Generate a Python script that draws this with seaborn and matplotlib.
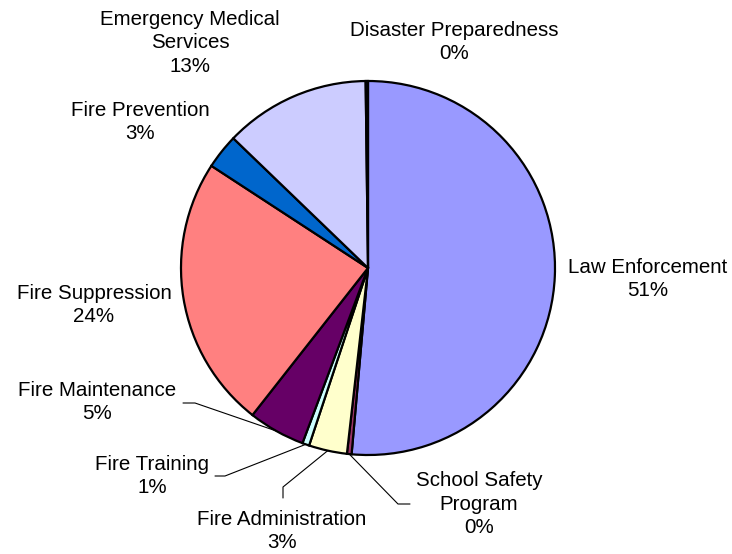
import numpy as np
import matplotlib
matplotlib.use("Agg")
import matplotlib.pyplot as plt
import seaborn as sns

categories = ["Law Enforcement", "School Safety\nProgram", "Fire Administration",
              "Fire Training", "Fire Maintenance", "Fire Suppression",
              "Fire Prevention", "Emergency Medical\nServices", "Disaster Preparedness"]
values = [51.4, 0.4, 3.3, 0.6, 4.9, 23.6, 3.0, 12.6, 0.2]
colors = ["#9999FF", "#993366", "#FFFFCC", "#CCFFFF", "#660066",
          "#FF8080", "#0066CC", "#CCCCFF", "#000080"]

sns.set_theme(style="white")
plt.rcParams['font.family'] = ['Liberation Sans', 'DejaVu Sans']

W, H = 732, 554
fig = plt.figure(figsize=(W / 100, H / 100), dpi=100)
ax = fig.add_axes([0, 0, 1, 1])

cx, cy, R = 368, H - 268, 187
wedges, _ = ax.pie(values, colors=colors, startangle=90, counterclock=False,
                   center=(cx, cy), radius=R,
                   wedgeprops=dict(edgecolor="black", linewidth=1.6))
ax.set_xlim(0, W)
ax.set_ylim(0, H)
ax.set_aspect("equal")
ax.axis("off")

# label layout (pixel positions, top-left origin) and optional leader elbows
label_pos = [(648, 279), (479, 504), (282, 531), (152, 476), (97, 402),
             (94, 305), (140, 122), (190, 43), (454, 42)]
leaders = {
    1: [(410, 504), (398, 504)],
    2: [(283, 498), (283, 487)],
    3: [(215, 476), (225, 476)],
    4: [(183, 403), (195, 403)],
}
total = sum(values)
for i, (cat, v) in enumerate(zip(categories, values)):
    pct = int(round(v / total * 100))
    x, y = label_pos[i]
    ax.text(x, H - y, f"{cat}\n{pct}%", ha="center", va="center",
            fontsize=14.8, linespacing=1.32, color="black")
    if i in leaders:
        w = wedges[i]
        mid = np.deg2rad((w.theta1 + w.theta2) / 2)
        ex, ey = cx + R * np.cos(mid), cy + R * np.sin(mid)
        pts = [(px, H - py) for px, py in leaders[i]] + [(ex, ey)]
        xs, ys = zip(*pts)
        ax.plot(xs, ys, color="black", linewidth=0.8)

fig.savefig("out.png", dpi=100, facecolor="white")
